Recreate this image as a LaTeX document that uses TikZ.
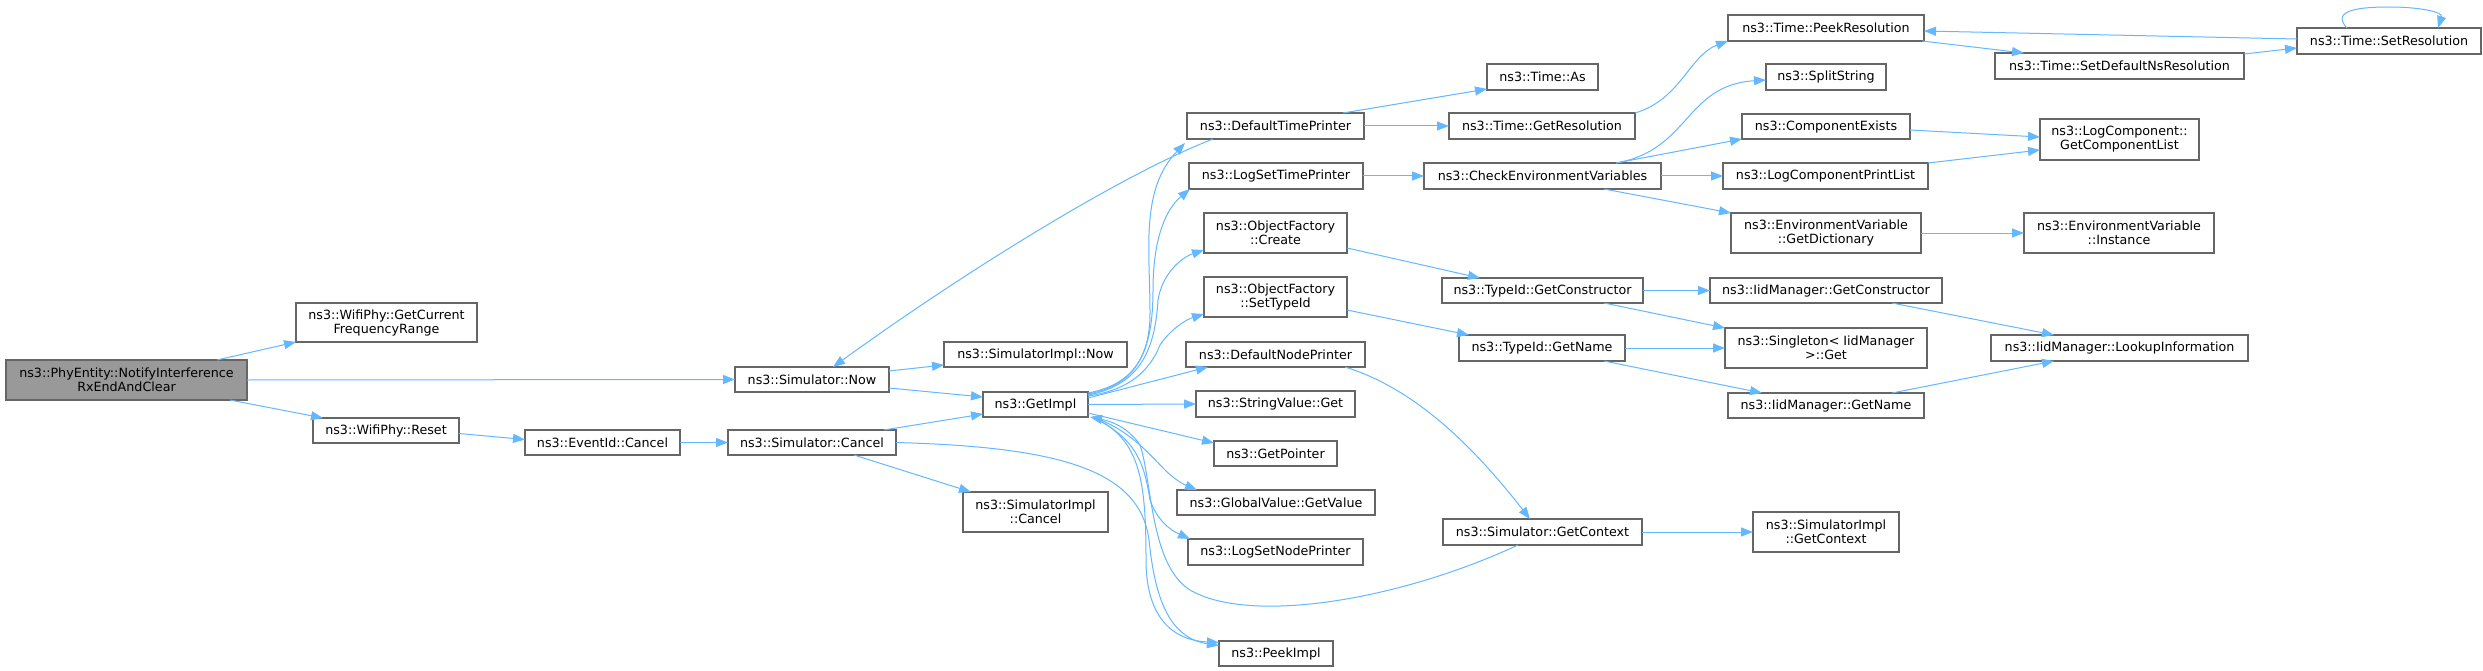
\documentclass[tikz,border=0pt]{standalone}
\usepackage{fontspec}
\setmainfont{DejaVu Sans}
\usetikzlibrary{arrows.meta,calc}
\definecolor{edgeblue}{HTML}{63B8FF}
\definecolor{boxgrey}{HTML}{666666}
\definecolor{rootfill}{HTML}{999999}
\tikzset{
 box/.style={draw=boxgrey, line width=1.1pt, fill=white, rectangle, inner sep=0pt, outer sep=0pt, align=center, font=\fontsize{12.7}{14}\selectfont},
 call/.style={draw=edgeblue, line width=1pt, -{Triangle[length=12pt,width=9pt]}},
}
\newcommand\bx[7][]{\node[box,#1,minimum width={(#5-#3)*1pt},minimum height={(#6-#4)*1pt}] (#2) at ({(#3+#5)/2},{(#4+#6)/2}) {#7};}
\begin{document}
\begin{tikzpicture}[x=1pt,y=-1pt]
\path[use as bounding box, fill=white] (0,0) rectangle (2483,671);
% nodes
\bx[fill=rootfill]{phy}{6}{360}{247}{400}{ns3::PhyEntity::NotifyInterference\\RxEndAndClear}
\bx{gcfr}{296}{303}{477}{342}{ns3::WifiPhy::GetCurrent\\FrequencyRange}
\bx{reset}{313}{418}{459}{443}{ns3::WifiPhy::Reset}
\bx{simnow}{735}{367}{889}{392}{ns3::Simulator::Now}
\bx{evcancel}{525}{430}{680}{455}{ns3::EventId::Cancel}
\bx{simcancel}{728}{430}{896}{455}{ns3::Simulator::Cancel}
\bx{simimplnow}{944}{342}{1127}{367}{ns3::SimulatorImpl::Now}
\bx{getimpl}{983}{392}{1088}{417}{ns3::GetImpl}
\bx{simimplcancel}{963}{492}{1108}{532}{ns3::SimulatorImpl\\::Cancel}
\bx{dtp}{1187}{113}{1364}{139}{ns3::DefaultTimePrinter}
\bx{lstp}{1189}{163}{1363}{189}{ns3::LogSetTimePrinter}
\bx{ofcreate}{1204}{213}{1347}{253}{ns3::ObjectFactory\\::Create}
\bx{ofset}{1204}{277}{1347}{317}{ns3::ObjectFactory\\::SetTypeId}
\bx{dnp}{1186}{342}{1365}{367}{ns3::DefaultNodePrinter}
\bx{svget}{1196}{391}{1355}{417}{ns3::StringValue::Get}
\bx{getptr}{1214}{441}{1337}{466}{ns3::GetPointer}
\bx{gvget}{1177}{490}{1375}{515}{ns3::GlobalValue::GetValue}
\bx{lsnp}{1188}{539}{1363}{565}{ns3::LogSetNodePrinter}
\bx{peek}{1219}{641}{1333}{666}{ns3::PeekImpl}
\bx{timeas}{1487}{64}{1598}{90}{ns3::Time::As}
\bx{getres}{1449}{113}{1635}{139}{ns3::Time::GetResolution}
\bx{cev}{1424}{163}{1661}{189}{ns3::CheckEnvironmentVariables}
\bx{tgc}{1442}{278}{1643}{303}{ns3::TypeId::GetConstructor}
\bx{tgn}{1459}{335}{1625}{361}{ns3::TypeId::GetName}
\bx{sgc}{1443}{519}{1642}{545}{ns3::Simulator::GetContext}
\bx{peekres}{1728}{15}{1924}{41}{ns3::Time::PeekResolution}
\bx{setdef}{1995}{53}{2244}{79}{ns3::Time::SetDefaultNsResolution}
\bx{setres}{2297}{28}{2481}{54}{ns3::Time::SetResolution}
\bx{split}{1766}{64}{1886}{90}{ns3::SplitString}
\bx{compex}{1742}{114}{1910}{139}{ns3::ComponentExists}
\bx{gcl}{2040}{119}{2199}{160}{ns3::LogComponent::\\GetComponentList}
\bx{lcpl}{1723}{163}{1928}{189}{ns3::LogComponentPrintList}
\bx{getdict}{1731}{213}{1921}{253}{ns3::EnvironmentVariable\\::GetDictionary}
\bx{inst}{2024}{213}{2214}{253}{ns3::EnvironmentVariable\\::Instance}
\bx{iidgc}{1710}{278}{1942}{303}{ns3::IidManager::GetConstructor}
\bx{singleton}{1725}{328}{1927}{368}{ns3::Singleton< IidManager\\>::Get}
\bx{iidgn}{1728}{393}{1924}{418}{ns3::IidManager::GetName}
\bx{lookup}{1991}{335}{2248}{361}{ns3::IidManager::LookupInformation}
\bx{sigc}{1753}{512}{1899}{552}{ns3::SimulatorImpl\\::GetContext}
% edges
\draw[call] ($(phy.north west)+(211,0)$) -- (gcfr.south west);
\draw[call] (phy.east) -- (simnow.west);
\draw[call] ($(phy.south west)+(224,0)$) -- ($(reset.north west)+(10,0)$);
\draw[call] ($(reset.east)+(0,3)$) -- ($(evcancel.west)+(0,-3)$);
\draw[call] (evcancel.east) -- (simcancel.west);
\draw[call] ($(simcancel.north west)+(156,0)$) -- ($(getimpl.west)+(0,9.5)$);
\draw[call] ($(simcancel.south west)+(126,0)$) -- ($(simimplcancel.north west)+(8,0)$);
\draw[call] (simcancel.east) .. controls (1060,447) and (1140,470) .. (1149,540) .. controls (1155,600) and (1170,638) .. ($(peek.west)+(0,-8)$);
\draw[call] ($(simnow.north east)+(0,4)$) -- ($(simimplnow.south west)+(0,-2)$);
\draw[call] ($(simnow.south east)+(0,-4)$) -- ($(getimpl.west)+(0,-7.5)$);
\draw[call] ($(dtp.south west)+(26,0)$) .. controls (1120,175) and (960,275) .. ($(simnow.north west)+(98,0)$);
% GetImpl fan
\draw[call] ($(getimpl.north east)+(0,1)$) .. controls (1130,385) and (1150,360) .. (1150,313) .. controls (1150,250) and (1140,190) .. ($(dtp.south west)+(-2,4)$);
\draw[call] ($(getimpl.north east)+(0,2)$) .. controls (1138,385) and (1153,350) .. (1153,290) .. controls (1153,240) and (1165,210) .. ($(lstp.south west)+(1,0)$);
\draw[call] ($(getimpl.north east)+(0,3)$) .. controls (1140,385) and (1155,350) .. (1158,300) .. controls (1162,275) and (1180,258) .. ($(ofcreate.south west)+(0,-3)$);
\draw[call] ($(getimpl.north east)+(0,4)$) .. controls (1130,390) and (1150,370) .. (1160,345) .. controls (1170,330) and (1185,320) .. ($(ofset.south west)+(0,-3)$);
\draw[call] ($(getimpl.north east)+(0,6)$) -- ($(dnp.south west)+(22,0)$);
\draw[call] (getimpl.east) -- (svget.west);
\draw[call] ($(getimpl.south east)+(0,-4)$) -- ($(getptr.north west)+(0,2)$);
\draw[call] ($(getimpl.south east)+(5,0)$) .. controls (1130,430) and (1150,455) .. (1165,470) .. controls (1175,480) and (1185,485) .. ($(gvget.north west)+(20,0)$);
\draw[call] ($(getimpl.south east)+(6,1)$) .. controls (1140,440) and (1145,470) .. (1150,500) .. controls (1157,520) and (1170,530) .. ($(lsnp.north west)+(2,0)$);
\draw[call] ($(getimpl.south east)+(7,1)$) .. controls (1140,440) and (1146,480) .. (1146,560) .. controls (1146,612) and (1168,640) .. ($(peek.west)+(0,-11)$);
\draw[call] ($(sgc.south west)+(75,0)$) .. controls (1400,600) and (1250,625) .. (1190,590) .. controls (1150,565) and (1152,480) .. (1140,445) .. controls (1130,430) and (1115,422) .. ($(getimpl.south east)+(2,0)$);
% time printer chain
\draw[call] ($(dtp.north west)+(156,0)$) -- ($(timeas.south west)+(0,-1)$);
\draw[call] (dtp.east) -- (getres.west);
\draw[call] (getres.north east) .. controls (1680,100) and (1690,55) .. (peekres.south west);
\draw[call] (lstp.east) -- (cev.west);
\draw[call] ($(cev.north west)+(192,0)$) .. controls (1690,150) and (1685,85) .. ($(split.west)+(0,3)$);
\draw[call] ($(cev.north west)+(192,0)$) -- (compex.south west);
\draw[call] (cev.east) -- (lcpl.west);
\draw[call] ($(cev.south west)+(180,0)$) -- (getdict.north west);
\draw[call] ($(compex.east)+(0,3.5)$) -- ($(gcl.west)+(0,-2.5)$);
\draw[call] (lcpl.north east) -- ($(gcl.west)+(0,10.5)$);
\draw[call] (getdict.east) -- (inst.west);
\draw[call] ($(peekres.south east)+(-2,0)$) -- ($(setdef.north west)+(29,0)$);
\draw[call] ($(setdef.north east)+(0,1)$) -- ($(setres.west)+(0,7)$);
\draw[call] ($(setres.west)+(0,-2)$) -- ($(peekres.east)+(0,3)$);
\draw[call] ($(setres.north west)+(50,0)$) .. controls (2330,10) and (2360,7) .. (2389,7) .. controls (2420,7) and (2443,12) .. ($(setres.north west)+(141,0)$);
% type id chain
\draw[call] ($(ofcreate.east)+(0,15)$) -- ($(tgc.north west)+(38,0)$);
\draw[call] ($(ofset.east)+(0,13)$) -- ($(tgn.north west)+(10,0)$);
\draw[call] (tgc.east) -- (iidgc.west);
\draw[call] ($(tgc.south west)+(162,0)$) -- (singleton.north west);
\draw[call] (tgn.east) -- (singleton.west);
\draw[call] ($(tgn.south west)+(145,0)$) -- ($(iidgn.north west)+(34,0)$);
\draw[call] ($(iidgc.south west)+(182,0)$) -- ($(lookup.north west)+(63,0)$);
\draw[call] ($(iidgn.north west)+(164,0)$) -- ($(lookup.south west)+(63,0)$);
% context chain
\draw[call] ($(dnp.south west)+(159,0)$) .. controls (1420,390) and (1480,455) .. ($(sgc.north west)+(87,0)$);
\draw[call] (sgc.east) -- (sigc.west);
\end{tikzpicture}
\end{document}
